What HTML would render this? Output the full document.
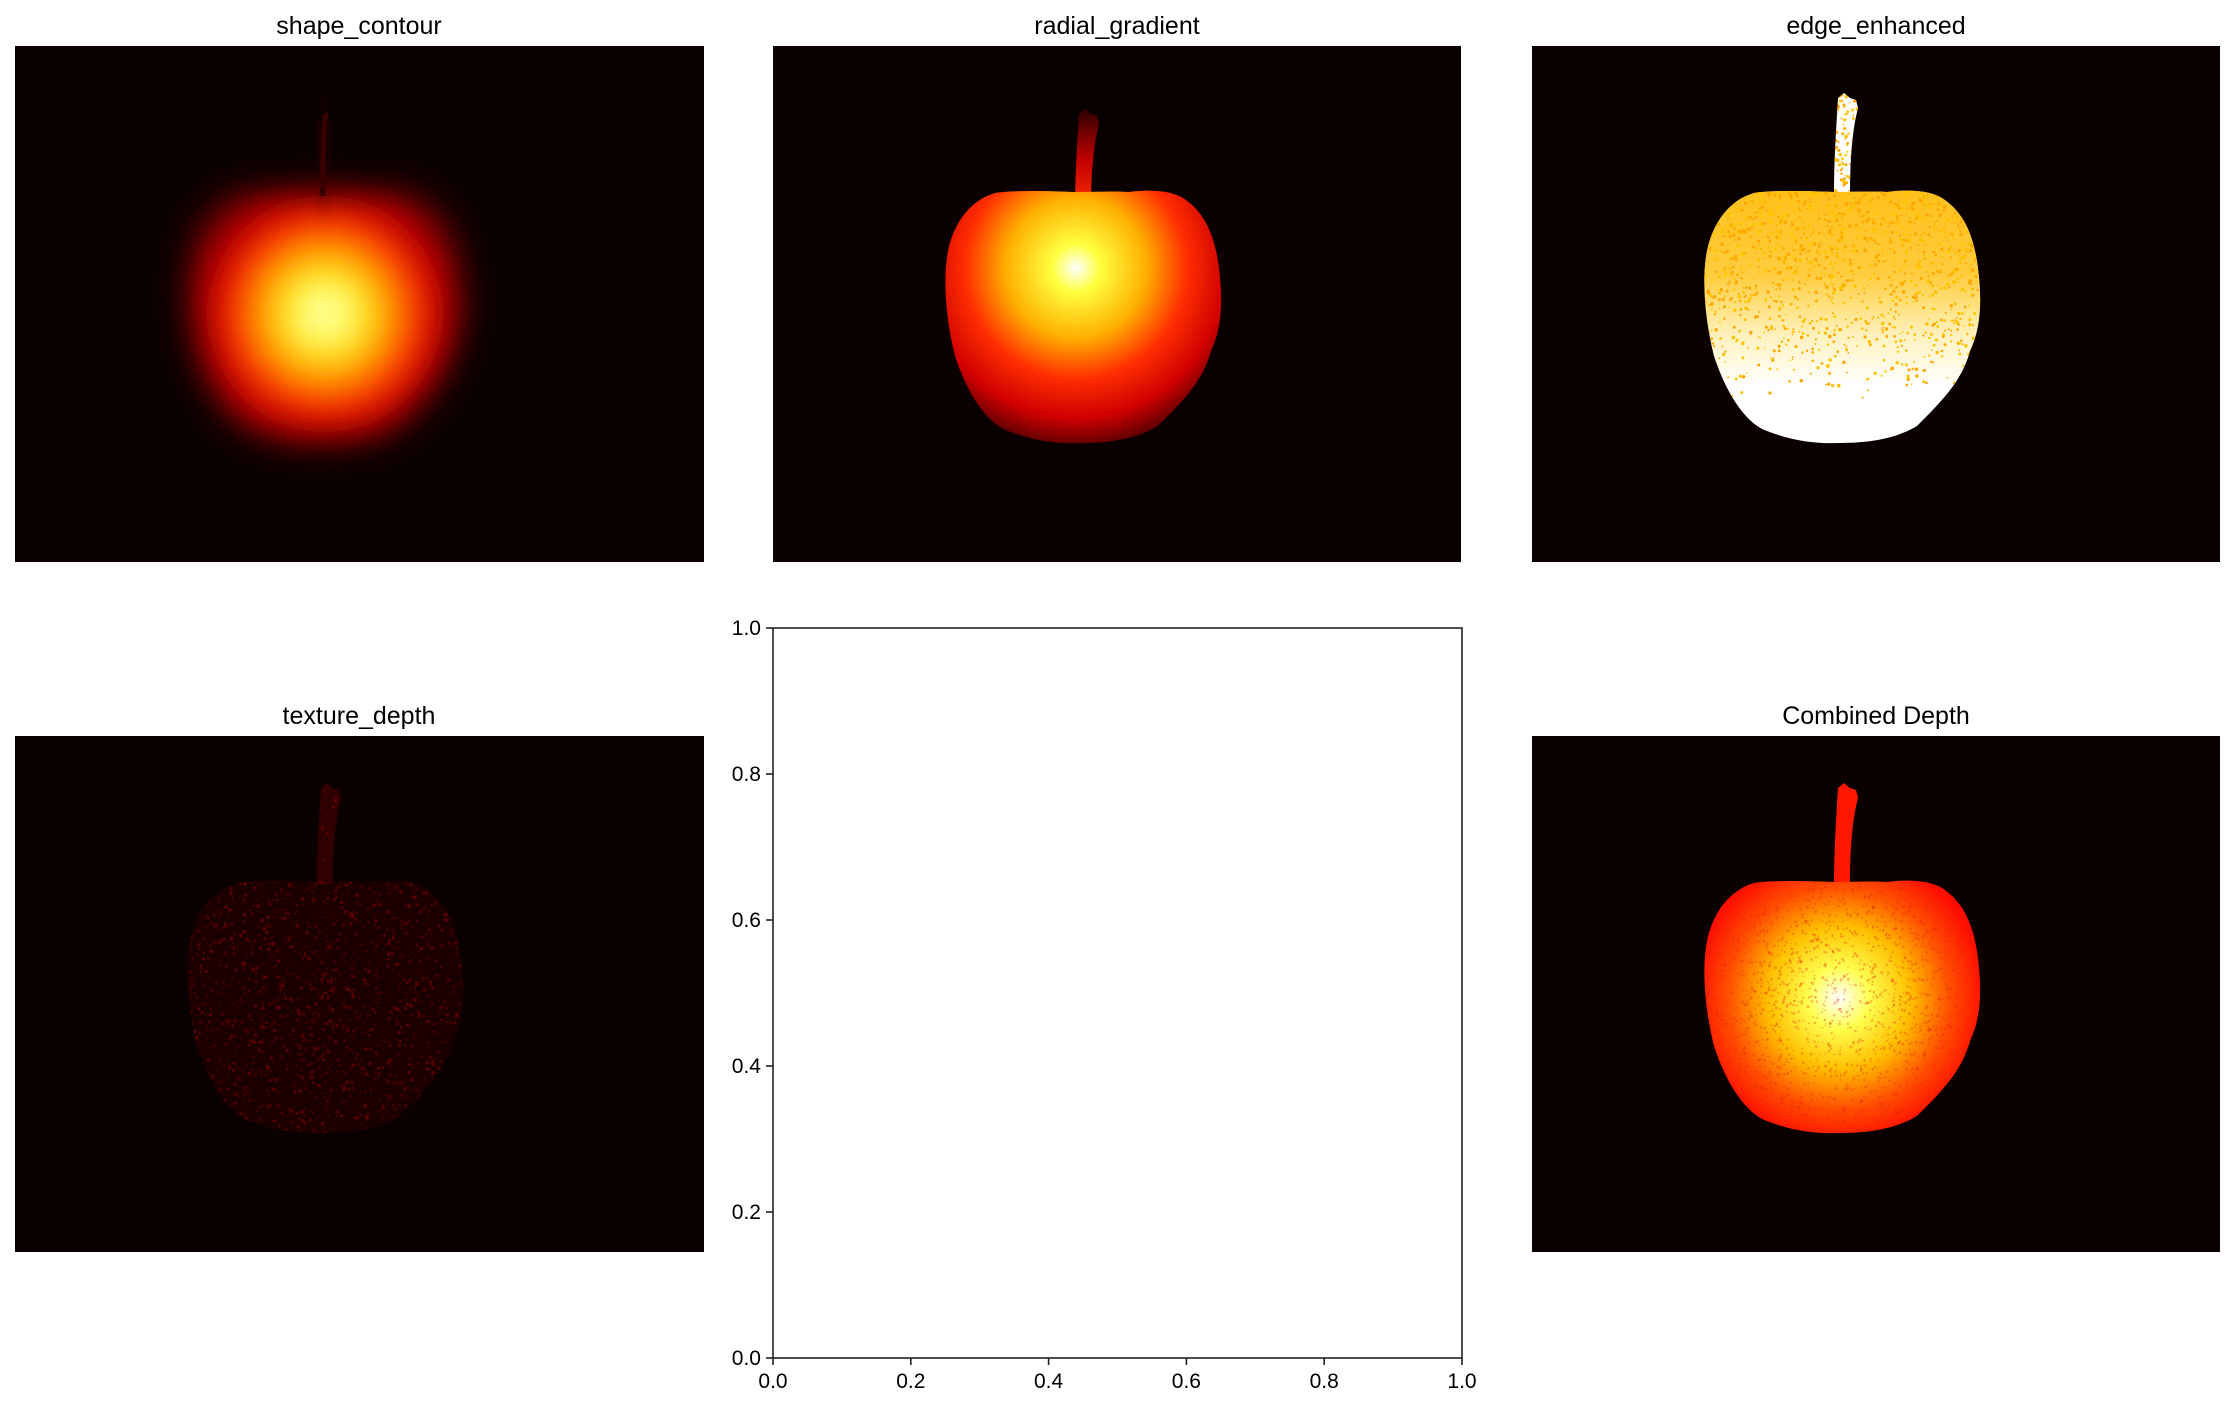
<!DOCTYPE html>
<html><head><meta charset="utf-8"><style>
html,body{margin:0;padding:0;background:#fff;}
svg{display:block;font-family:"Liberation Sans","DejaVu Sans",sans-serif;}
</style></head><body>
<svg id="fig" width="2235" height="1408" viewBox="0 0 2235 1408" xmlns="http://www.w3.org/2000/svg">
<defs>
  <path id="apple" d="M 302 146 C 280 145, 240 144, 222 147 C 195 155, 180 180, 175 205 C 170 230, 172 270, 182 310 C 195 350, 215 378, 235 385 C 260 395, 285 398, 308 397 C 340 397, 365 392, 385 380 C 410 355, 430 335, 438 305 C 450 280, 450 250, 445 215 C 440 185, 430 165, 410 152 C 395 143, 370 144, 355 146 C 340 145, 325 146, 302 146 Z"/>
  <path id="stem" d="M 302 148 C 302 115, 304 85, 306 52 L 312 47 L 318 52 L 324 54 L 326 62 C 320 85, 318 115, 318 148 Z"/>
  <clipPath id="appleClip"><use href="#apple"/><use href="#stem"/></clipPath>
  <clipPath id="bodyClip"><use href="#apple"/></clipPath>
  <radialGradient id="g1" gradientUnits="userSpaceOnUse" cx="310" cy="268" r="140">
    <stop offset="0" stop-color="#ffffff"/><stop offset="0.2" stop-color="#ffff20"/>
    <stop offset="0.45" stop-color="#ffa000"/><stop offset="0.65" stop-color="#ff1000"/>
    <stop offset="0.9" stop-color="#a00000"/><stop offset="1" stop-color="#600000"/>
  </radialGradient>
  <filter id="blur" x="-30%" y="-30%" width="160%" height="160%"><feGaussianBlur stdDeviation="16"/></filter>
  <radialGradient id="g2" gradientUnits="userSpaceOnUse" cx="303" cy="222" r="200">
    <stop offset="0" stop-color="#ffffff"/><stop offset="0.12" stop-color="#ffff40"/>
    <stop offset="0.35" stop-color="#ffb000"/><stop offset="0.55" stop-color="#ff3000"/>
    <stop offset="0.75" stop-color="#d00000"/><stop offset="0.95" stop-color="#300000"/><stop offset="1" stop-color="#0b0000"/>
  </radialGradient>
  <linearGradient id="stem2" x1="0" y1="1" x2="0" y2="0">
    <stop offset="0" stop-color="#ff3000"/><stop offset="0.5" stop-color="#c00000"/><stop offset="1" stop-color="#300000"/>
  </linearGradient>
  <linearGradient id="g3" gradientUnits="userSpaceOnUse" x1="0" y1="140" x2="0" y2="340">
    <stop offset="0" stop-color="#ffb800" stop-opacity="0.9"/><stop offset="0.45" stop-color="#ffbc00" stop-opacity="0.75"/>
    <stop offset="0.75" stop-color="#ffc800" stop-opacity="0.25"/><stop offset="1" stop-color="#ffd000" stop-opacity="0"/>
  </linearGradient>
  <radialGradient id="g5" gradientUnits="userSpaceOnUse" cx="307" cy="262" r="170">
    <stop offset="0" stop-color="#ffffff"/><stop offset="0.18" stop-color="#ffff50"/>
    <stop offset="0.42" stop-color="#ffc000"/><stop offset="0.65" stop-color="#ff5000"/>
    <stop offset="0.85" stop-color="#ff1000"/><stop offset="1" stop-color="#f00000"/>
  </radialGradient>
</defs>
<rect width="2235" height="1408" fill="#fff"/>

<!-- panel 1 -->
<text x="359" y="34" font-size="25" text-anchor="middle">shape_contour</text>
<g transform="translate(15,46)">
  <rect width="689" height="516" fill="#0b0000"/>
  <g filter="url(#blur)"><use href="#apple" fill="url(#g1)"/></g>
  <path d="M 304 155 C 304 120, 305 90, 307 65 L 314 62 C 312 90, 311 120, 312 155 Z" fill="#400000" filter="url(#blur)" opacity="0.9"/>
  <path d="M 305 150 C 305 120, 306 90, 308 68 L 313 66 C 311 90, 310 120, 311 150 Z" fill="#3a0000"/>
</g>

<!-- panel 2 -->
<text x="1117" y="34" font-size="25" text-anchor="middle">radial_gradient</text>
<g transform="translate(773,46)">
  <rect width="688" height="516" fill="#0b0000"/>
  <use href="#stem" fill="url(#stem2)" transform="translate(0,16)"/>
  <use href="#apple" fill="url(#g2)"/>
</g>

<!-- panel 3 -->
<text x="1876" y="34" font-size="25" text-anchor="middle">edge_enhanced</text>
<g transform="translate(1532,46)">
  <rect width="688" height="516" fill="#0b0000"/>
  <use href="#apple" fill="#fff"/><use href="#stem" fill="#fff"/>
  <use href="#apple" fill="url(#g3)"/>
  <g id="dots3" clip-path="url(#appleClip)"></g>
</g>

<!-- panel 4 -->
<text x="359" y="724" font-size="25" text-anchor="middle">texture_depth</text>
<g transform="translate(15,736)">
  <rect width="689" height="516" fill="#0b0000"/>
  <use href="#apple" fill="#1c0000"/><use href="#stem" fill="#300000"/>
  <g id="dots4" clip-path="url(#appleClip)"></g>
</g>

<!-- panel 5 -->
<text x="1876" y="724" font-size="25" text-anchor="middle">Combined Depth</text>
<g transform="translate(1532,736)">
  <rect width="688" height="516" fill="#0b0000"/>
  <use href="#stem" fill="#ff1800"/>
  <use href="#apple" fill="url(#g5)"/>
  <g id="dots5" clip-path="url(#bodyClip)"></g>
</g>

<!-- empty axes -->
<g id="emptyAxes"></g>
</svg>
<script>
const xTicks = [0.0, 0.2, 0.4, 0.6, 0.8, 1.0];
const yTicks = [0.0, 0.2, 0.4, 0.6, 0.8, 1.0];
const xTickLabels = ["0.0","0.2","0.4","0.6","0.8","1.0"];
const yTickLabels = ["0.0","0.2","0.4","0.6","0.8","1.0"];
const NS = "http://www.w3.org/2000/svg";
const AX = {l:773, r:1462, t:628, b:1358};
const sx = v => AX.l + v*(AX.r-AX.l);
const sy = v => AX.b - v*(AX.b-AX.t);
const ax = document.getElementById('emptyAxes');
function mk(tag, attrs, parent){const e=document.createElementNS(NS,tag);for(const k in attrs)e.setAttribute(k,attrs[k]);parent.appendChild(e);return e;}
const frame = mk('rect',{x:AX.l,y:AX.t,width:AX.r-AX.l,height:AX.b-AX.t,fill:'none',stroke:'#222','stroke-width':1.6},ax);


xTicks.forEach((v,i)=>{
  const t = mk('line',{x1:sx(v),x2:sx(v),y1:AX.b,y2:AX.b+7,stroke:'#222','stroke-width':1.6},ax);
  
  
  const l = mk('text',{x:sx(v),y:AX.b+30,'font-size':21,'text-anchor':'middle',fill:'#000'},ax);
  l.textContent = xTickLabels[i];
  
  
});
yTicks.forEach((v,i)=>{
  const t = mk('line',{x1:AX.l-7,x2:AX.l,y1:sy(v),y2:sy(v),stroke:'#222','stroke-width':1.6},ax);
  
  
  const l = mk('text',{x:AX.l-12,y:sy(v)+7,'font-size':21,'text-anchor':'end',fill:'#000'},ax);
  l.textContent = yTickLabels[i];
  
  
});
// texture speckle (decorative)
let seed = 12345;
function rnd(){seed=(seed*1103515245+12345)&0x7fffffff;return seed/0x7fffffff;}
const d3 = document.getElementById('dots3');
let s3 = '';
for(let i=0;i<9000;i++){
  const x = 170+rnd()*285, y = 45+rnd()*355;
  const p = y<200?0.95:Math.max(0, 0.95-(y-200)/170);
  if(rnd()<p){ s3 += `<circle cx="${x.toFixed(1)}" cy="${y.toFixed(1)}" r="${(0.7+rnd()*1.0).toFixed(1)}" fill="${rnd()<0.5?'#ffa800':'#ffc400'}"/>`; }
}
d3.innerHTML = s3;
const d4 = document.getElementById('dots4');
let s4 = '';
for(let i=0;i<2500;i++){
  const x = 170+rnd()*285, y = 45+rnd()*355;
  s4 += `<circle cx="${x.toFixed(1)}" cy="${y.toFixed(1)}" r="${(0.6+rnd()*1.2).toFixed(1)}" fill="${rnd()<0.5?'#5a0000':'#3a0000'}"/>`;
}
d4.innerHTML = s4;
const d5 = document.getElementById('dots5');
let s5 = '';
for(let i=0;i<2500;i++){
  const x = 170+rnd()*285, y = 140+rnd()*260;
  s5 += `<circle cx="${x.toFixed(1)}" cy="${y.toFixed(1)}" r="${(0.6+rnd()*0.9).toFixed(1)}" fill="#e02000" opacity="0.3"/>`;
}
d5.innerHTML = s5;
</script>
</body></html>
